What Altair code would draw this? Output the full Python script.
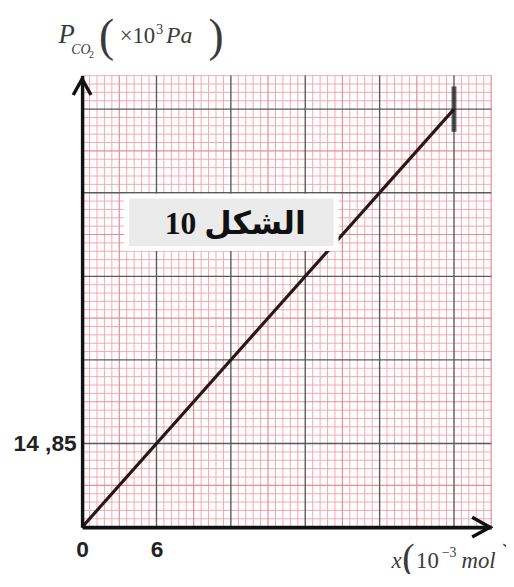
import altair as alt
import pandas as pd

# ---- data ----
x_mmol = [0, 30]            # x (10^-3 mol)
p_kpa = [0, 74.25]          # P_CO2 (x10^3 Pa)
x_tick_values = [0, 6]
y_tick_values = [14.85]
y_tick_labels = ["14 ,85"]
figure_label = "10 الشكل"

X_MAX = 33.0
Y_MAX = 80.2
X_MINOR = 0.6
Y_MINOR = 1.485

W, H = 414, 457

xs = alt.Scale(domain=[0, X_MAX], nice=False, zero=False)
ys = alt.Scale(domain=[0, Y_MAX], nice=False, zero=False)

PINK = "#f2a9b3"
PINK_MID = "#e98a98"
MAJOR = "#5a5a5a"

label_expr = " : ".join(
    [f"datum.value == {v} ? '{t}'" for v, t in zip(y_tick_values, y_tick_labels)] + ["''"]
)

x_axis = alt.Axis(
    values=x_tick_values, title=None, grid=False, ticks=False,
    domainColor="#111", domainWidth=4, labelFont="Liberation Sans",
    labelFontSize=23, labelFontWeight="bold", labelColor="#222",
    labelPadding=12, labelFlush=False, zindex=1)
y_axis = alt.Axis(
    values=y_tick_values, labelExpr=label_expr, title=None, grid=False,
    ticks=False, domainColor="#111", domainWidth=3.5,
    labelFont="Liberation Sans", labelFontSize=23, labelFontWeight="bold",
    labelColor="#222", labelPadding=6, zindex=1)

# graph-paper grid positions
nx = int(round(X_MAX / X_MINOR))
ny = int(Y_MAX / Y_MINOR + 1e-9)
vx_minor = [i * X_MINOR for i in range(1, nx + 1) if i % 5]
vx_mid = [i * X_MINOR for i in range(1, nx + 1) if i % 5 == 0 and i % 10]
vx_major = [i * X_MINOR for i in range(1, nx + 1) if i % 10 == 0]
hy_minor = [i * Y_MINOR for i in range(1, ny + 1) if i % 5]
hy_mid = [i * Y_MINOR for i in range(1, ny + 1) if i % 5 == 0 and i % 10]
hy_major = [i * Y_MINOR for i in range(1, ny + 1) if i % 10 == 0]


def vrules(vals, color, width):
    return alt.Chart(pd.DataFrame({"x": vals})).mark_rule(
        color=color, strokeWidth=width
    ).encode(x=alt.X("x:Q", scale=xs, axis=x_axis))


def hrules(vals, color, width):
    return alt.Chart(pd.DataFrame({"p": vals})).mark_rule(
        color=color, strokeWidth=width
    ).encode(y=alt.Y("p:Q", scale=ys, axis=y_axis))


grid = [
    vrules(vx_minor, PINK, 1), hrules(hy_minor, PINK, 1),
    vrules(vx_mid, PINK_MID, 1.2), hrules(hy_mid, PINK_MID, 1.2),
    vrules(vx_major, MAJOR, 1.4), hrules(hy_major, MAJOR, 1.4),
]

df = pd.DataFrame({"x": x_mmol, "p": p_kpa})

line = alt.Chart(df).mark_line(color="#2a1818", strokeWidth=3.2).encode(
    x=alt.X("x:Q", scale=xs, axis=x_axis),
    y=alt.Y("p:Q", scale=ys, axis=y_axis),
)

end_tick = alt.Chart(df.tail(1)).mark_tick(
    orient="vertical", size=46, thickness=5, color="#1a1a1a"
).encode(x=alt.X("x:Q", scale=xs, axis=x_axis), y=alt.Y("p:Q", scale=ys, axis=y_axis))

# label box
box = alt.Chart(pd.DataFrame({"a": [0]})).mark_rect(
    fill="#ebebeb", stroke="white", strokeWidth=5
).encode(x=alt.value(45), x2=alt.value(257), y=alt.value(122), y2=alt.value(175))

box_text = alt.Chart(pd.DataFrame({"t": [figure_label]})).mark_text(
    font="Liberation Serif, DejaVu Sans", fontSize=32, fontWeight="bold",
    color="#111", align="center", baseline="middle"
).encode(text="t:N", x=alt.value(155), y=alt.value(150))

# axis arrowheads
y_arrow = alt.Chart(pd.DataFrame({"x": [0], "p": [Y_MAX - 0.6]})).mark_point(
    shape="M-1,1.8L0,0L1,1.8", size=324, filled=False, color="#111",
    strokeWidth=3.5, opacity=1
).encode(x=alt.X("x:Q", scale=xs, axis=x_axis), y=alt.Y("p:Q", scale=ys, axis=y_axis))

x_arrow = alt.Chart(pd.DataFrame({"x": [X_MAX - 0.1], "p": [0]})).mark_point(
    shape="M-1.8,-1L0,0L-1.8,1", size=400, filled=False, color="#111",
    strokeWidth=3.5, opacity=1
).encode(x=alt.X("x:Q", scale=xs, axis=x_axis), y=alt.Y("p:Q", scale=ys, axis=y_axis))


def txt(s, px, py, size, italic=False, color="#3a3a3a"):
    return alt.Chart(pd.DataFrame({"t": [s]})).mark_text(
        font="Liberation Serif", fontSize=size,
        fontStyle="italic" if italic else "normal", color=color,
        align="left", baseline="alphabetic"
    ).encode(text="t:N", x=alt.value(px), y=alt.value(py))


# y-axis title: P_CO2 (x10^3 Pa)
y_title = [
    txt("P", -24, -33, 27, True),
    txt("CO", -11, -22, 14, True),
    txt("2", 7, -18, 10),
    txt("(", 17, -25, 46),
    txt("×10", 38, -33, 23),
    txt("3", 75, -42, 14),
    txt("Pa", 85, -33, 24, True),
    txt(")", 128, -25, 46),
]

# x-axis title: x (10^-3 mol)
x_title = [
    txt("x", 313, 498, 23, True),
    txt("(", 324, 500, 38),
    txt("10", 338, 498, 23),
    txt("−3", 364, 487, 14),
    txt("mol", 384, 498, 23, True),
    txt(")", 425, 500, 38),
]

chart = alt.layer(
    *grid, line, end_tick, box, box_text, y_arrow, x_arrow, *y_title, *x_title
).properties(
    width=W, height=H,
    padding={"left": 75, "top": 65, "right": 15, "bottom": 44},
    autosize=alt.AutoSizeParams(type="none"),
).configure_view(stroke=None, fill="white")

chart.save("out.html", embed_options={"renderer": "svg", "actions": False})
